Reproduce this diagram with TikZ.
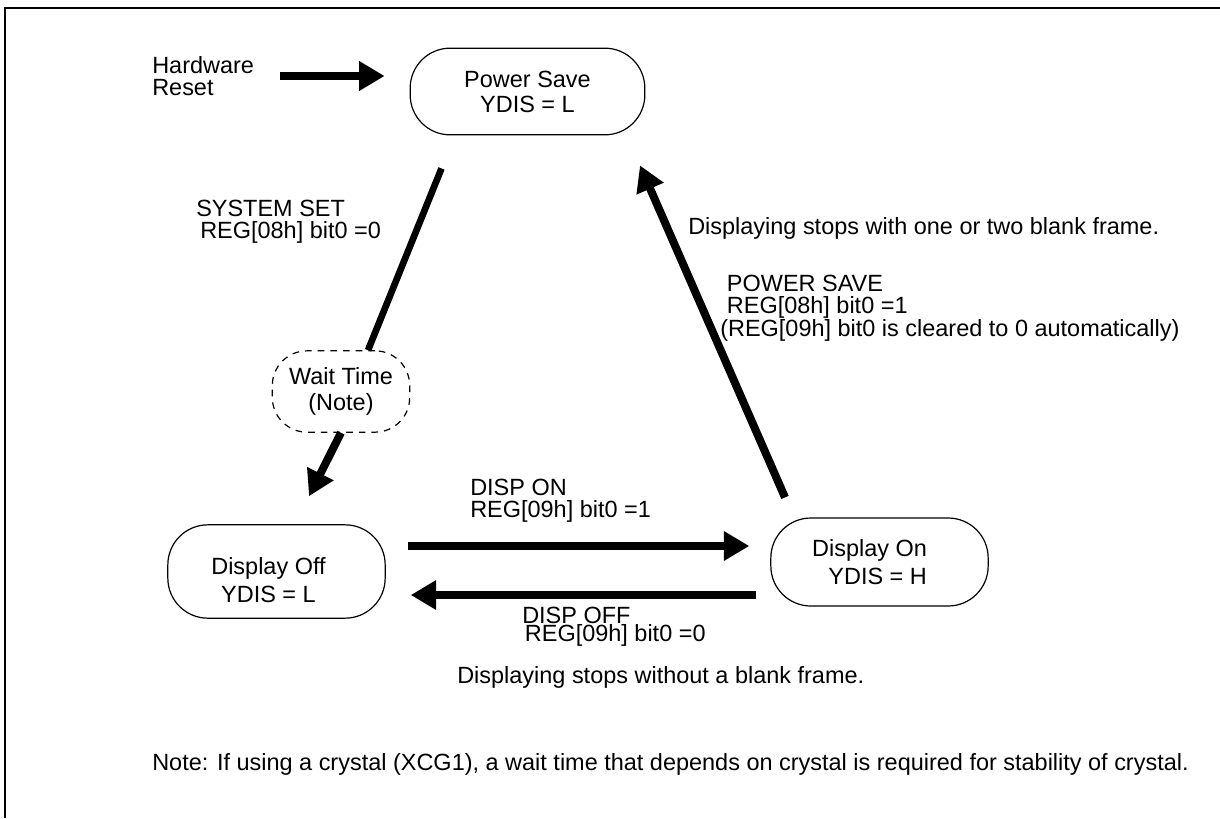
\documentclass[tikz,border=0pt]{standalone}
\usepackage{fontspec}
\setmainfont{Liberation Sans}
\usetikzlibrary{arrows.meta,calc}
\begin{document}
\begin{tikzpicture}[x=0.75pt,y=-0.75pt,
  every node/.style={font=\fontsize{17.6pt}{16.5pt}\selectfont, inner sep=0pt},
  state/.style={draw, line width=0.9pt, rounded corners=30pt, align=center},
  waitbox/.style={draw, line width=0.9pt, dash pattern=on 5pt off 4.5pt, rounded corners=26pt, align=center},
  lbl/.style={anchor=west, align=left},
  bigarrow/.style={line width=6pt, -{Triangle[length=19pt,width=21pt]}},
  bar/.style={line width=5pt}]
\useasboundingbox (0,0) rectangle (1220,818);
\draw[line width=1.1pt] (5,818) -- (5,8) -- (1220,8);

% states
\node[state, minimum width=176pt, minimum height=65pt, font=\fontsize{17.6pt}{18.75pt}\selectfont] (ps) at (527.5,91.5) {Power Save\\YDIS = L};
\node[waitbox, minimum width=103pt, minimum height=61pt, font=\fontsize{17.6pt}{19pt}\selectfont] (wt) at (341,391.5) {Wait Time\\(Note)};
\node[state, minimum width=163pt, minimum height=70pt, font=\fontsize{17.6pt}{21pt}\selectfont] (doff) at (276.5,571.5) {\rule{0pt}{25pt}Display Off\hspace*{12pt}\\YDIS = L\hspace*{12pt}};
\node[state, minimum width=163pt, minimum height=66pt, align=right, font=\fontsize{17.6pt}{21pt}\selectfont] (don) at (879.5,562) {Display On\hspace*{15pt}\\YDIS = H\hspace*{15pt}};

% labels
\node[lbl] (hw) at (152,76) {Hardware\\Reset};
\node[lbl] (ssl) at (196,222) {SYSTEM SET\\\hspace*{3pt}REG[08h] bit0 =0};
\node[lbl] (dson) at (470,501) {DISP ON\\REG[09h] bit0 =1};
\node[lbl, font=\fontsize{17.6pt}{13.5pt}\selectfont] (dsoff) at (522,627) {DISP OFF\\\hspace*{2pt}REG[09h] bit0 =0};
\node[lbl] (wob) at (457,677) {Displaying stops without a blank frame.};
\node[lbl] (wb) at (688,228) {Displaying stops with one or two blank frame.};
\node[lbl, font=\fontsize{17.6pt}{17pt}\selectfont] (psl) at (720,308) {\hspace*{5pt}POWER SAVE\\\hspace*{5pt}REG[08h] bit0 =1\\(REG[09h] bit0 is cleared to 0 automatically)};
\node[lbl] (note) at (152,764) {Note: If using a crystal (XCG1), a wait time that depends on crystal is required for stability of crystal.};

% connectors
\draw[bigarrow] ($(hw.east)+(26,0)$) -- ($(ps.west |- hw.east)+(-25,0)$);
\draw[bar] ($(ps.south)+(-86,33)$) -- ($(wt.north)+(27,0)$);
\draw[bigarrow] (wt.south) -- ($(doff.north)+(32.5,-28)$);
\draw[bigarrow] ($(doff.east)+(22,-25.5)$) -- ($(don.west)+(-21,-16)$);
\draw[bigarrow] ($(don.west)+(-14,33)$) -- ($(doff.east)+(25,23.5)$);
\draw[bigarrow] ($(don.north)+(-94.5,-20)$) -- ($(ps.south)+(112.5,30)$);
\end{tikzpicture}
\end{document}
